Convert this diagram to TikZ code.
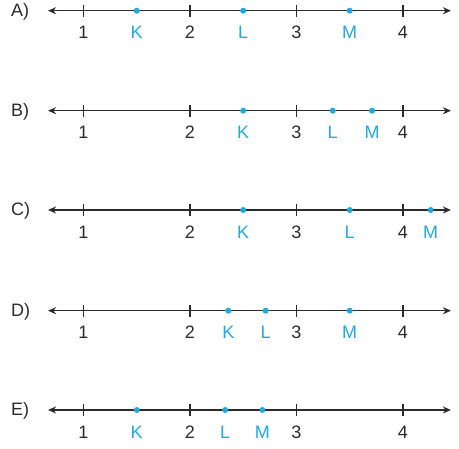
\documentclass[tikz,border=0pt]{standalone}
\usepackage{fontspec}
\setmainfont{Liberation Sans}
\usepackage{xcolor}
\usetikzlibrary{arrows.meta,positioning}
\definecolor{ptblue}{HTML}{1EA9E1}
\definecolor{axisgray}{HTML}{2B2B2B}

\begin{document}
\begin{tikzpicture}[x=106.5pt,y=-1pt,>={Stealth[length=8pt,width=7pt]}]
  \tikzstyle{axis}=[<->,draw=axisgray,line width=1.4pt]
  \tikzstyle{tickmark}=[draw=axisgray,line width=1.2pt]
  \tikzstyle{num}=[text=axisgray,font=\fontsize{18}{18}\selectfont,inner sep=0pt]
  \tikzstyle{rowlabel}=[text=axisgray,font=\fontsize{18}{18}\selectfont,inner sep=0pt,anchor=west]
  \tikzstyle{ptdot}=[circle,fill=ptblue,inner sep=0pt,minimum size=6pt]
  \tikzstyle{ptname}=[text=ptblue,font=\fontsize{18}{18}\selectfont,inner sep=0pt]
  \useasboundingbox (0.216,0) rectangle (4.526,449);
  % one number line per answer
  \foreach \r/\y/\k/\l/\m in {A/10.7/1.5/2.5/3.5,B/110.7/2.5/3.34/3.71,C/210/2.5/3.5/4.26,D/310.7/2.36/2.71/3.5,E/410/1.5/2.33/2.68}{
    \node[rowlabel] (\r-lab) at (0.319,\y+1) {\r)};
    \coordinate (\r-w) at (0.667,\y);
    \coordinate (\r-e) at (4.45,\y);
    \draw[axis] (\r-w) -- (\r-e);
    \foreach \n in {1,2,3,4}{
      \coordinate (\r-t\n) at (\n,\y);
      \draw[tickmark] ([yshift=6pt]\r-t\n) -- ([yshift=-6pt]\r-t\n);
      \node[num] (\r-n\n) at (\n,\y+22) {\n};
    }
    \foreach \p/\v in {K/\k,L/\l,M/\m}{
      \node[ptdot] (\r-\p) at (\v,\y) {};
      \node[ptname] (\r-\p-lab) at (\v,\y+22) {\p};
    }
  }
\end{tikzpicture}
\end{document}
